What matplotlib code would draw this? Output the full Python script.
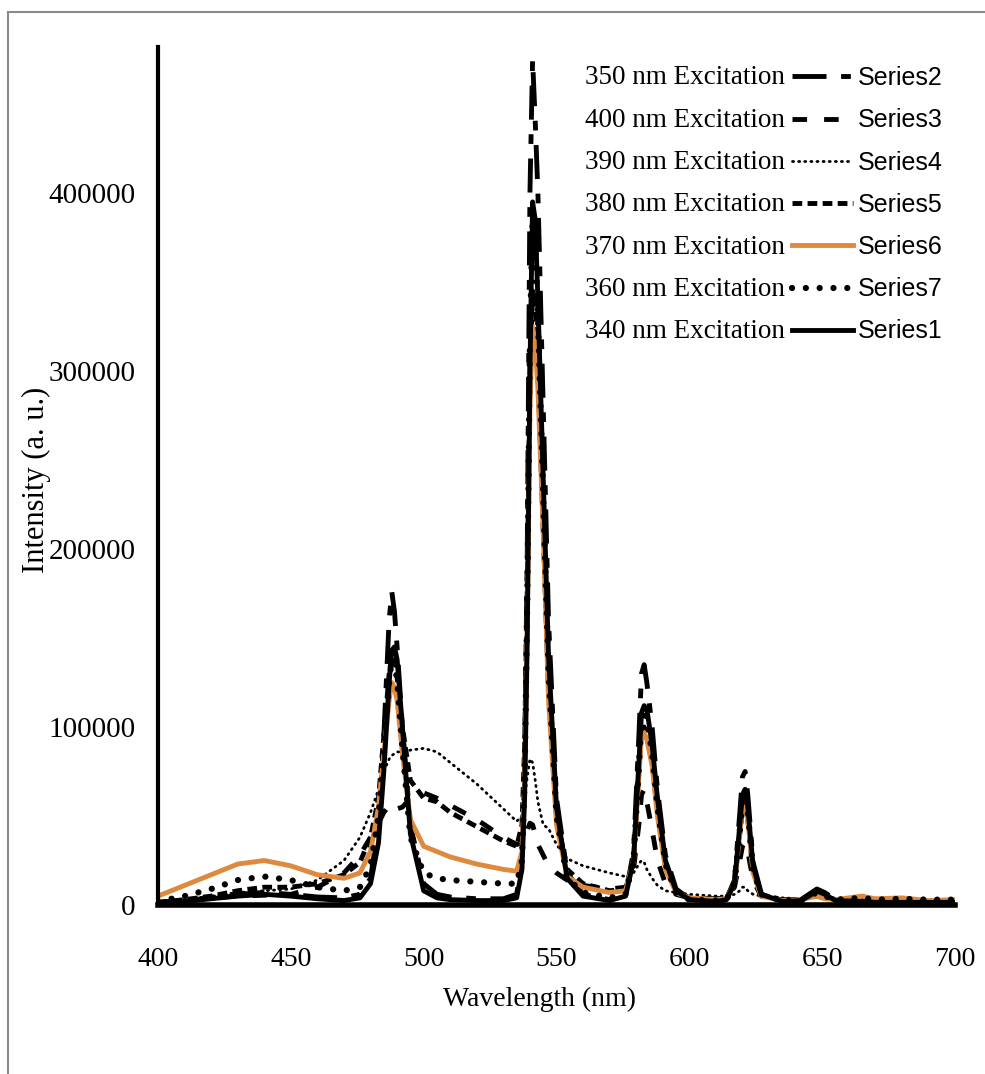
import matplotlib
matplotlib.use('Agg')
from matplotlib import pyplot as plt
from matplotlib.patches import Rectangle

wavelength = [400, 410, 420, 430, 440, 450, 460, 470, 476, 480, 483, 485, 487, 488, 489, 490, 492, 495,
              500, 505, 510, 520, 530, 535, 537, 538, 539, 540, 541, 542, 543, 545, 547, 550, 554,
              560, 570, 576, 579, 581, 582, 583, 584, 586, 588, 591, 595,
              600, 610, 614, 617, 619, 620, 621, 622, 624, 627, 635, 642, 645, 648, 651, 655,
              665, 670, 680, 690, 700]

ex_340 = [1000, 2000, 3500, 5000, 6000, 5000, 3500, 2500, 4000, 12000, 35000, 75000, 125000, 143000, 145000, 138000, 100000, 40000,
          8000, 4000, 3000, 2500, 2500, 4000, 20000, 60000, 150000, 300000, 395000, 385000, 340000, 240000, 140000, 55000, 15000,
          5000, 2500, 5000, 25000, 80000, 108000, 112000, 110000, 90000, 60000, 25000, 8000,
          3000, 2000, 3000, 12000, 45000, 62000, 65000, 55000, 22000, 6000, 2000, 2500, 5000, 8000, 6000, 2500,
          2000, 1500, 1500, 1500, 1500]
ex_350 = [1000, 2000, 4000, 6000, 7000, 6000, 4500, 4000, 6000, 15000, 45000, 95000, 160000, 176000, 165000, 145000, 100000, 45000,
          12000, 6000, 4500, 3500, 3500, 6000, 25000, 80000, 200000, 400000, 475000, 440000, 400000, 280000, 160000, 60000, 18000,
          6000, 3000, 6000, 30000, 95000, 130000, 135000, 125000, 100000, 65000, 28000, 9000,
          3500, 2500, 3500, 14000, 52000, 72000, 75000, 62000, 24000, 7000, 2500, 3000, 6000, 9000, 7000, 3000,
          2500, 2000, 2000, 2000, 2000]
ex_400 = [1500, 2500, 4000, 5000, 5500, 6000, 10000, 18000, 28000, 38000, 46000, 52000, 56000, 57000, 56000, 54000, 55000, 60000,
          63000, 60000, 56000, 48000, 38000, 34000, 35000, 38000, 42000, 46000, 45000, 40000, 34000, 28000, 22000, 18000, 14000,
          11000, 9000, 10000, 20000, 45000, 62000, 65000, 58000, 42000, 25000, 12000, 6000,
          4000, 3500, 4000, 10000, 25000, 33000, 35000, 30000, 14000, 5000, 3000, 3000, 4000, 5000, 4000, 3000,
          2500, 2500, 2500, 2000, 2000]
ex_390 = [2000, 3000, 5000, 7000, 8000, 9000, 14000, 25000, 38000, 52000, 65000, 75000, 82000, 84000, 85000, 86000, 86000, 87000,
          88000, 86000, 80000, 68000, 54000, 47000, 50000, 60000, 72000, 82000, 80000, 70000, 58000, 45000, 43000, 34000, 26000,
          22000, 18000, 16000, 18000, 23000, 25000, 24000, 20000, 15000, 11000, 8000, 7000,
          6000, 5000, 5000, 6000, 8000, 10000, 10000, 8000, 6000, 5000, 4000, 3500, 4000, 4500, 4000, 3500,
          3000, 3000, 2500, 2500, 2500]
ex_380 = [1500, 3000, 5000, 8000, 10000, 10000, 12000, 17000, 24000, 38000, 60000, 95000, 130000, 140000, 138000, 128000, 100000, 70000,
          60000, 58000, 52000, 44000, 36000, 33000, 45000, 90000, 180000, 300000, 345000, 335000, 300000, 210000, 120000, 50000, 20000,
          12000, 8000, 9000, 25000, 75000, 98000, 100000, 95000, 80000, 52000, 22000, 8000,
          4000, 3000, 4000, 12000, 40000, 53000, 55000, 48000, 19000, 6000, 2500, 3000, 5000, 7000, 5000, 3000,
          2500, 2500, 2500, 2000, 2000]
ex_370 = [5000, 11000, 17000, 23000, 25000, 22000, 17000, 15000, 18000, 30000, 55000, 85000, 115000, 125000, 122000, 115000, 85000, 48000,
          33000, 30000, 27000, 23000, 20000, 19000, 30000, 70000, 160000, 280000, 325000, 315000, 290000, 210000, 115000, 45000, 16000,
          10000, 7000, 8000, 25000, 72000, 95000, 97000, 93000, 78000, 50000, 20000, 7000,
          4000, 3000, 3500, 12000, 40000, 55000, 57000, 48000, 18000, 5000, 2500, 3000, 4000, 5000, 3500, 3000,
          5000, 3500, 4000, 2500, 3000]
ex_360 = [2000, 5000, 9000, 14000, 16000, 14000, 10000, 8000, 10000, 22000, 50000, 85000, 125000, 138000, 137000, 126000, 88000, 38000,
          18000, 15000, 14000, 13000, 12000, 12000, 25000, 70000, 170000, 320000, 385000, 375000, 330000, 230000, 130000, 50000, 15000,
          7000, 4000, 6000, 25000, 78000, 105000, 110000, 105000, 85000, 55000, 23000, 7000,
          3000, 2500, 3000, 12000, 42000, 58000, 62000, 52000, 20000, 6000, 2500, 2500, 5000, 7000, 5000, 3000,
          4000, 3000, 3500, 3000, 3000]

excitation_labels = ['350 nm Excitation', '400 nm Excitation', '390 nm Excitation', '380 nm Excitation',
                     '370 nm Excitation', '360 nm Excitation', '340 nm Excitation']
series_names = ['Series2', 'Series3', 'Series4', 'Series5', 'Series6', 'Series7', 'Series1']
x_ticks = [400, 450, 500, 550, 600, 650, 700]
y_ticks = [0, 100000, 200000, 300000, 400000]

serif = 'Liberation Serif'

fig = plt.figure(figsize=(9.85, 10.74), dpi=100)
fig.add_artist(Rectangle((8 / 985, -0.2), 1.2, 1.2 - 12 / 1074, transform=fig.transFigure,
                         fill=False, edgecolor='#8a8a8a', linewidth=1.5))
ax = fig.add_axes([158 / 985, 169 / 1074, 797 / 985, 858 / 1074])

lines = []
lines.append(ax.plot(wavelength, ex_350, color='black', linewidth=3.5, dashes=(7, 3, 2, 3))[0])
lines.append(ax.plot(wavelength, ex_400, color='black', linewidth=3.5, dashes=(3, 3.5))[0])
lines.append(ax.plot(wavelength, ex_390, color='black', linewidth=2, dashes=(0.4, 1.8),
                     dash_capstyle='round')[0])
lines.append(ax.plot(wavelength, ex_380, color='black', linewidth=3.5, dashes=(2, 1.1))[0])
lines.append(ax.plot(wavelength, ex_370, color='#DE8A3E', linewidth=3.5)[0])
lines.append(ax.plot(wavelength, ex_360, color='black', linewidth=4.5, dashes=(0.01, 2.2),
                     dash_capstyle='round')[0])
lines.append(ax.plot(wavelength, ex_340, color='black', linewidth=3.5)[0])

ax.set_xlim(400, 700)
ax.set_ylim(0, 482000)
ax.set_xticks(x_ticks)
ax.set_yticks(y_ticks)
ax.set_xticklabels([str(t) for t in x_ticks], fontfamily=serif, fontsize=20)
ax.set_yticklabels([str(t) for t in y_ticks], fontfamily=serif, fontsize=21)
ax.tick_params(axis='x', length=0, pad=30)
ax.tick_params(axis='y', length=0, pad=16)
for side in ['top', 'right']:
    ax.spines[side].set_visible(False)
ax.spines['left'].set_linewidth(3)
ax.spines['bottom'].set_linewidth(4)
ax.set_xlabel('Wavelength (nm)', fontfamily=serif, fontsize=20)
ax.set_ylabel('Intensity (a. u.)', fontfamily=serif, fontsize=22)
ax.xaxis.set_label_coords(0.479, -0.095)
ax.yaxis.set_label_coords(-0.134, 0.495)

leg = ax.legend(lines, series_names, loc='upper left', bbox_to_anchor=(792 / 985, 1 - 66 / 1074),
                bbox_transform=fig.transFigure, frameon=False, borderpad=0, borderaxespad=0,
                handlelength=2.45, handletextpad=0.2, labelspacing=0.73,
                prop={'family': 'Liberation Sans', 'size': 18})

# excitation names sit to the left of each legend row
fig.canvas.draw()
renderer = fig.canvas.get_renderer()
inv = fig.transFigure.inverted()
for txt, name in zip(leg.get_texts(), excitation_labels):
    bb = txt.get_window_extent(renderer)
    y_mid = inv.transform((0, (bb.y0 + bb.y1) / 2))[1]
    fig.text(585 / 985, y_mid, name, fontfamily=serif, fontsize=19.5, va='center', ha='left')

plt.savefig('out.png', dpi=100)
